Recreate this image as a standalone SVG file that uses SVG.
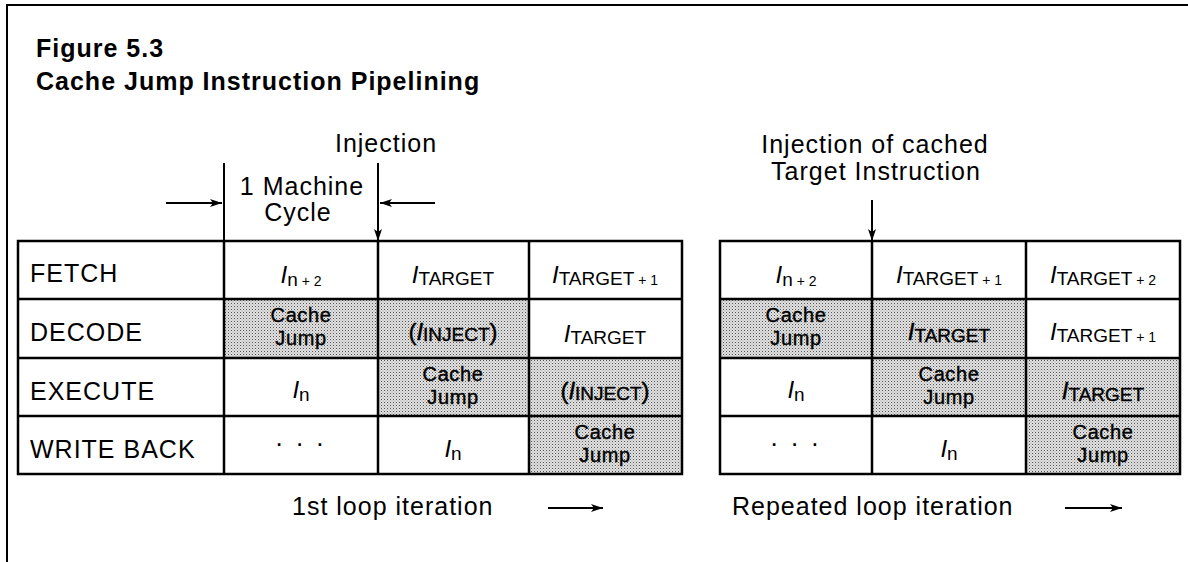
<svg xmlns="http://www.w3.org/2000/svg" width="1188" height="562" viewBox="0 0 1188 562">
<defs>
<pattern id="stip" width="3" height="3" patternUnits="userSpaceOnUse">
<rect width="3" height="3" fill="#e0e0e0"/>
<rect x="0" y="0" width="1" height="1" fill="#555"/>
<rect x="1.5" y="1.5" width="1" height="1" fill="#999"/>
</pattern>
<marker id="ah" viewBox="0 0 12 8" refX="12" refY="4" markerWidth="12" markerHeight="8" markerUnits="userSpaceOnUse" orient="auto">
<path d="M0,0 L12,4 L0,8 L3,4 Z" fill="#000"/>
</marker>
<style>
text{font-family:"Liberation Sans",Arial,sans-serif;fill:#000}
.title{font-size:25px;font-weight:bold;letter-spacing:1px}
.lbl{font-size:25px;letter-spacing:1px}
.row{font-size:25px;letter-spacing:1px}
.cell{font-size:24px;text-anchor:middle}
.cj{font-size:20px;text-anchor:middle;letter-spacing:0.6px;stroke:#000;stroke-width:0.4}
.it{font-style:italic}
.sub{font-size:19px}
.sm{font-size:14px}
.dots{font-size:26px;text-anchor:middle;letter-spacing:3px}
.dk{stroke:#000;stroke-width:0.4}
.grid{fill:none;stroke:#000;stroke-width:2.5}
.sh{fill:url(#stip)}
.ln{stroke:#000;stroke-width:2;fill:none}
</style>
</defs>
<rect width="1188" height="562" fill="#fff"/>
<g id="frame">
<path class="ln" d="M7,562 V5 H1188"/>
</g>
<g id="title">
<text class="title" x="36" y="57">Figure 5.3</text>
<text class="title" x="36" y="90">Cache Jump Instruction Pipelining</text>
</g>
<g id="annot-left">
<text class="lbl" x="386" y="152" text-anchor="middle">Injection</text>
<text class="lbl" x="302" y="195" text-anchor="middle">1 Machine</text>
<text class="lbl" x="298" y="221" text-anchor="middle">Cycle</text>
</g>
<g id="annot-right">
<text class="lbl" x="875" y="153" text-anchor="middle">Injection of cached</text>
<text class="lbl" x="876" y="180" text-anchor="middle">Target Instruction</text>
</g>
<g id="connectors">
<line class="ln" x1="224" y1="163" x2="224" y2="241"/>
<line class="ln" x1="378" y1="163" x2="378" y2="241" marker-end="url(#ah)"/>
<line class="ln" x1="166" y1="203" x2="222" y2="203" marker-end="url(#ah)"/>
<line class="ln" x1="435" y1="203" x2="380" y2="203" marker-end="url(#ah)"/>
<line class="ln" x1="872" y1="200" x2="872" y2="241" marker-end="url(#ah)"/>
<line class="ln" x1="548" y1="508" x2="603" y2="508" marker-end="url(#ah)"/>
<line class="ln" x1="1065" y1="508" x2="1122" y2="508" marker-end="url(#ah)"/>
</g>
<g id="table-left">
<rect class="sh" x="224" y="299" width="154" height="59"/>
<rect class="sh" x="378" y="299" width="151" height="59"/>
<rect class="sh" x="378" y="358" width="151" height="58"/>
<rect class="sh" x="529" y="358" width="153" height="58"/>
<rect class="sh" x="529" y="416" width="153" height="58"/>
<rect class="grid" x="18" y="241" width="664" height="233"/>
<path class="grid" d="M18,299 H682 M18,358 H682 M18,416 H682 M224,241 V474 M378,241 V474 M529,241 V474"/>
<text class="row" x="30" y="282">FETCH</text>
<text class="row" x="30" y="341">DECODE</text>
<text class="row" x="30" y="400">EXECUTE</text>
<text class="row" x="30" y="458">WRITE BACK</text>
<text class="cell" x="301" y="283"><tspan class="it">I</tspan><tspan class="sub" dy="3">n</tspan><tspan class="sm"> + 2</tspan></text>
<text class="cell" x="453" y="283"><tspan class="it">I</tspan><tspan class="sub" dy="2">TARGET</tspan></text>
<text class="cell" x="605" y="283"><tspan class="it">I</tspan><tspan class="sub" dy="2">TARGET</tspan><tspan class="sm"> + 1</tspan></text>
<text class="cj" x="301" y="322">Cache</text>
<text class="cj" x="301" y="345">Jump</text>
<text class="cell dk" x="453" y="340">(<tspan class="it">I</tspan><tspan class="sub" font-size="16" dy="1">INJECT</tspan><tspan dy="-1">)</tspan></text>
<text class="cell" x="605" y="342"><tspan class="it">I</tspan><tspan class="sub" dy="2">TARGET</tspan></text>
<text class="cell" x="301" y="398"><tspan class="it">I</tspan><tspan class="sub" dy="3">n</tspan></text>
<text class="cj" x="453" y="381">Cache</text>
<text class="cj" x="453" y="404">Jump</text>
<text class="cell dk" x="605" y="399">(<tspan class="it">I</tspan><tspan class="sub" font-size="16" dy="1">INJECT</tspan><tspan dy="-1">)</tspan></text>
<text class="dots" x="301" y="446">. . .</text>
<text class="cell" x="453" y="457"><tspan class="it">I</tspan><tspan class="sub" dy="3">n</tspan></text>
<text class="cj" x="605" y="439">Cache</text>
<text class="cj" x="605" y="462">Jump</text>
</g>
<g id="table-right">
<rect class="sh" x="720" y="299" width="152" height="59"/>
<rect class="sh" x="872" y="299" width="154" height="59"/>
<rect class="sh" x="872" y="358" width="154" height="58"/>
<rect class="sh" x="1026" y="358" width="154" height="58"/>
<rect class="sh" x="1026" y="416" width="154" height="58"/>
<rect class="grid" x="720" y="241" width="460" height="233"/>
<path class="grid" d="M720,299 H1180 M720,358 H1180 M720,416 H1180 M872,241 V474 M1026,241 V474"/>
<text class="cell" x="796" y="283"><tspan class="it">I</tspan><tspan class="sub" dy="3">n</tspan><tspan class="sm"> + 2</tspan></text>
<text class="cell" x="949" y="283"><tspan class="it">I</tspan><tspan class="sub" dy="2">TARGET</tspan><tspan class="sm"> + 1</tspan></text>
<text class="cell" x="1103" y="283"><tspan class="it">I</tspan><tspan class="sub" dy="2">TARGET</tspan><tspan class="sm"> + 2</tspan></text>
<text class="cj" x="796" y="322">Cache</text>
<text class="cj" x="796" y="345">Jump</text>
<text class="cell dk" x="949" y="340"><tspan class="it">I</tspan><tspan class="sub" dy="2">TARGET</tspan></text>
<text class="cell" x="1103" y="340"><tspan class="it">I</tspan><tspan class="sub" dy="2">TARGET</tspan><tspan class="sm"> + 1</tspan></text>
<text class="cell" x="796" y="398"><tspan class="it">I</tspan><tspan class="sub" dy="3">n</tspan></text>
<text class="cj" x="949" y="381">Cache</text>
<text class="cj" x="949" y="404">Jump</text>
<text class="cell dk" x="1103" y="399"><tspan class="it">I</tspan><tspan class="sub" dy="2">TARGET</tspan></text>
<text class="dots" x="796" y="446">. . .</text>
<text class="cell" x="949" y="457"><tspan class="it">I</tspan><tspan class="sub" dy="3">n</tspan></text>
<text class="cj" x="1103" y="439">Cache</text>
<text class="cj" x="1103" y="462">Jump</text>
</g>
<g id="footer">
<text class="lbl" x="292" y="515">1st loop iteration</text>
<text class="lbl" x="732" y="515">Repeated loop iteration</text>
</g>
</svg>
